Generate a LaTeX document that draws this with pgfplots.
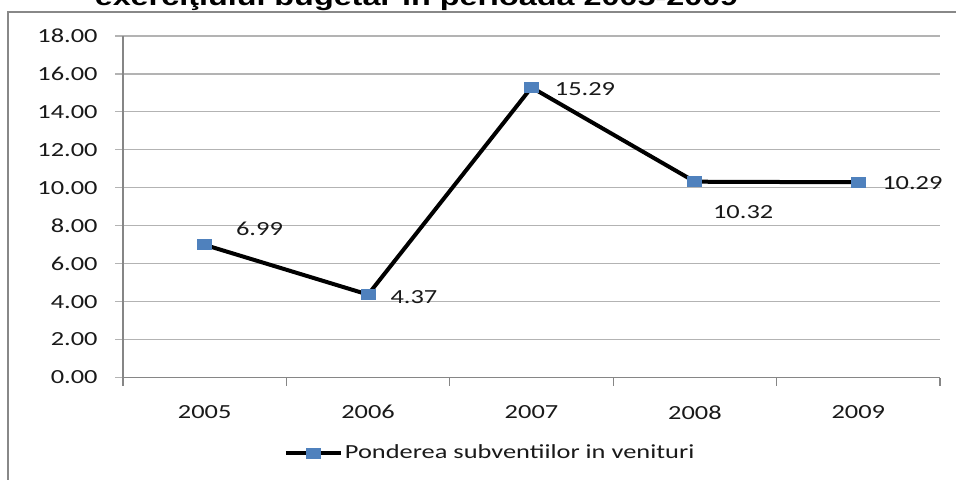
\documentclass[border=0pt]{standalone}
\usepackage{fontspec}
\setmainfont{Carlito}[FakeStretch=1.32]
\newfontfamily\titlefont{Liberation Sans}[FakeStretch=1.32]
\usepackage{pgfplots}
\pgfplotsset{compat=1.18}

\definecolor{mblue}{HTML}{4F81BD}
\definecolor{gridgray}{HTML}{B3B3B3}
\definecolor{axisgray}{HTML}{868686}
\definecolor{framegray}{HTML}{888888}

\begin{document}
\begin{tikzpicture}[font=\fontsize{10pt}{12pt}\selectfont]
\useasboundingbox (0,0) rectangle (478pt,-240pt);
\clip (0,0) rectangle (478pt,-240pt);
% title, cut at the top as in the original
\node[anchor=base, inner sep=0pt, font={\titlefont\bfseries\fontsize{12.25pt}{14pt}\selectfont}]
  at (208.25pt,-2.6pt) {exerciţiului bugetar în perioada 2005-2009};
\draw[framegray, line width=1pt] (4.2pt,-250pt) -- (4.2pt,-6pt) -- (490pt,-6pt);

\begin{axis}[
  at={(61.5pt,-188.75pt)}, anchor=south west,
  scale only axis, width=408.5pt, height=170.75pt,
  xmin=-0.5, xmax=4.5, ymin=0, ymax=18,
  axis lines*=left,
  axis line style={axisgray, line width=0.6pt},
  xtick={0,...,4}, xticklabels={2005,2006,2007,2008,2009},
  minor xtick={-0.5,0.5,...,4.5},
  major x tick style={draw=none},
  minor x tick style={axisgray, line width=0.6pt},
  ytick={0,2,...,18},
  yticklabels={0.00,2.00,4.00,6.00,8.00,10.00,12.00,14.00,16.00,18.00},
  ytick style={gridgray, line width=0.6pt},
  tick align=outside,
  major tick length=4pt, minor tick length=4pt,
  ymajorgrids, major grid style={gridgray, line width=0.6pt},
  tick label style={font=\fontsize{10pt}{12pt}\selectfont, text=black!90},
  yticklabel style={anchor=east, inner sep=0pt, xshift=-8.5pt},
  xticklabel style={anchor=north, inner sep=0pt, yshift=-9.75pt},
  /pgf/number format/assume math mode=true,
  clip=false,
  legend style={at={(axis description cs:0.1965,-0.2211)}, anchor=west,
    draw=none, fill=none, inner sep=0pt, nodes={inner sep=0pt, anchor=west},
    font=\fontsize{10pt}{12pt}\selectfont, text=black!90},
  legend image code/.code={
    \draw[mark repeat=2, mark phase=2, #1] plot coordinates {(0pt,0pt) (13.75pt,0pt) (27.5pt,0pt)};
    \path (28.5pt,0pt);},
]
\addplot[black, line width=2pt, mark=square*, mark size=2.5pt,
  mark options={fill=mblue, draw=mblue, line width=0pt, xscale=1.4}]
  coordinates {(0,6.99) (1,4.37) (2,15.29) (3,10.32) (4,10.29)};
\addlegendentry{Ponderea subventiilor in venituri}

\node[anchor=west, inner sep=0pt, text=black!90, xshift=15.5pt, yshift=8pt] at (axis cs:0,6.99) {6.99};
\node[anchor=west, inner sep=0pt, text=black!90, xshift=11pt, yshift=-1pt] at (axis cs:1,4.37) {4.37};
\node[anchor=west, inner sep=0pt, text=black!90, xshift=11.5pt, yshift=-1pt] at (axis cs:2,15.29) {15.29};
\node[anchor=west, inner sep=0pt, text=black!90, xshift=8.9pt, yshift=-15pt] at (axis cs:3,10.32) {10.32};
\node[anchor=west, inner sep=0pt, text=black!90, xshift=11.8pt, yshift=-0.5pt] at (axis cs:4,10.29) {10.29};
\end{axis}
\end{tikzpicture}
\end{document}
